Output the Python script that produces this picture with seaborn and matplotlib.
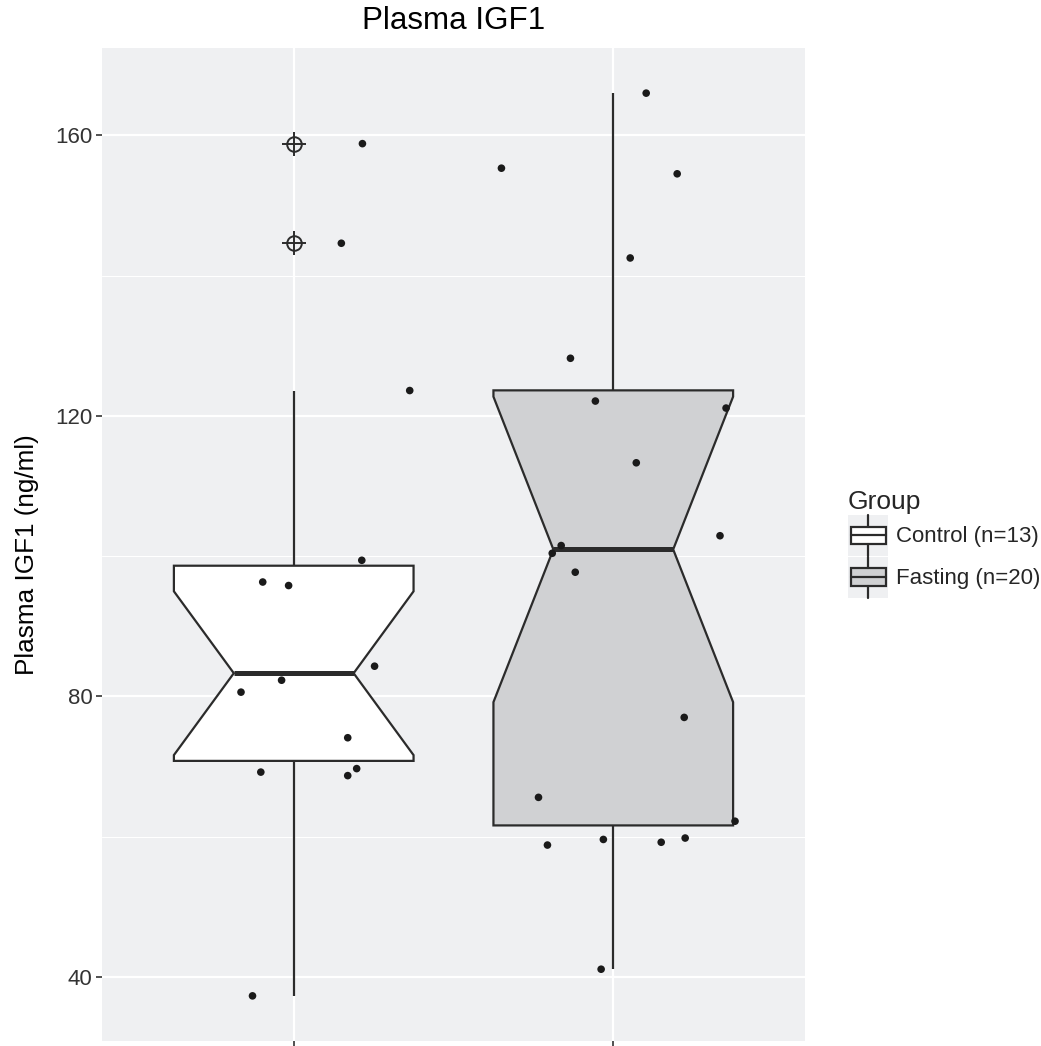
import numpy as np
import pandas as pd
import matplotlib
matplotlib.use("Agg")
import matplotlib.pyplot as plt
import matplotlib.patches as mpatches
from matplotlib.patches import Rectangle
from matplotlib.lines import Line2D
from matplotlib.legend_handler import HandlerBase
import seaborn as sns

# ---------------- data ----------------
groups = ["Control (n=13)", "Fasting (n=20)"]
control_values = [158.8, 144.6, 123.6, 99.4, 96.3, 95.8, 84.3, 82.3, 80.6,
                  74.1, 69.2, 68.7, 69.7, 37.3]
control_jitter = [0.215, 0.149, 0.363, 0.213, -0.097, -0.016, 0.253, -0.038,
                  -0.165, 0.169, -0.103, 0.169, 0.197, -0.129]
fasting_values = [166.0, 155.3, 154.5, 142.5, 128.2, 122.1, 121.1, 113.3,
                  101.5, 100.4, 102.9, 97.7, 77.0, 65.6, 62.2, 58.8, 59.6,
                  59.2, 59.8, 41.1]
fasting_jitter = [0.103, -0.350, 0.200, 0.053, -0.134, -0.056, 0.353, 0.072,
                  -0.163, -0.191, 0.334, -0.119, 0.222, -0.234, 0.381, -0.206,
                  -0.031, 0.150, 0.225, -0.038]
fill_colors = ["#FFFFFF", "#D0D1D3"]
major_yticks = [40, 80, 120, 160]
minor_yticks = [60, 100, 140]
title = "Plasma IGF1"
ylabel = "Plasma IGF1 (ng/ml)"
legend_title = "Group"

panel_bg = "#EFF0F2"
edge = "#2B2B2B"
point_color = "#1A1A1A"

df = pd.DataFrame({
    "group": [groups[0]] * len(control_values) + [groups[1]] * len(fasting_values),
    "value": control_values + fasting_values,
    "jitter": control_jitter + fasting_jitter,
})
df["xpos"] = df["group"].map({g: i for i, g in enumerate(groups)}) + df["jitter"]

# ---------------- figure ----------------
sns.set_theme(style="white")
plt.rcParams["font.family"] = ["Liberation Sans", "DejaVu Sans"]

W, H = 1041, 1046
fig = plt.figure(figsize=(W / 100, H / 100), dpi=100)
ax = fig.add_axes([102 / W, (H - 1041) / H, 703 / W, 993 / H])
ax.set_facecolor(panel_bg)

sns.boxplot(
    data=df, x="group", y="value", hue="group", order=groups, hue_order=groups,
    palette=dict(zip(groups, fill_colors)), saturation=1, width=0.75,
    dodge=False, notch=True, showcaps=False, legend=False,
    linecolor=edge, linewidth=1.6,
    medianprops=dict(linewidth=3.6, color=edge, solid_capstyle="butt"),
    flierprops=dict(marker="o", markersize=10.5, markerfacecolor="none",
                    markeredgecolor=edge, markeredgewidth=1.4),
    ax=ax, zorder=2,
)

# crosshair on outliers (circle-plus look)
for i, g in enumerate(groups):
    v = df.loc[df["group"] == g, "value"].to_numpy()
    q1, q3 = np.percentile(v, [25, 75])
    iqr = q3 - q1
    out = v[(v > q3 + 1.5 * iqr) | (v < q1 - 1.5 * iqr)]
    if len(out):
        ax.scatter(np.full(len(out), i), out, marker="+", s=290,
                   color=edge, linewidths=1.4, zorder=3)

sns.scatterplot(data=df, x="xpos", y="value", color=point_color, s=30,
                edgecolor="none", legend=False, ax=ax, zorder=4)

# axes styling
vals = df["value"].to_numpy()
rng = vals.max() - vals.min()
ax.set_ylim(vals.min() - 0.05 * rng, vals.max() + 0.05 * rng)
ax.set_xlim(-0.6, len(groups) - 1 + 0.6)
ax.set_yticks(major_yticks)
ax.set_yticks(minor_yticks, minor=True)
ax.set_xticks(range(len(groups)))
ax.set_xticklabels([""] * len(groups))
ax.set_xlabel("")
ax.set_ylabel(ylabel, fontsize=18.8, color="black")
ax.yaxis.set_label_coords(-0.089, 0.49)
ax.grid(True, which="major", color="white", linewidth=1.6, zorder=0)
ax.grid(True, which="minor", axis="y", color="white", linewidth=0.8, zorder=0)
ax.set_axisbelow(True)
for s in ax.spines.values():
    s.set_visible(False)
ax.tick_params(axis="both", which="major", length=4, width=1.2, color="#333333",
               labelsize=16, labelcolor="#333333", pad=3, left=True, bottom=True)
ax.tick_params(axis="y", which="minor", length=0)

fig.text(453.5 / W, 1 - 21 / H, title, ha="center", va="center", fontsize=22.6,
         color="black")

# ---------------- legend with boxplot keys ----------------
class BoxKeyHandler(HandlerBase):
    def create_artists(self, legend, orig_handle, xdescent, ydescent, width,
                       height, fontsize, trans):
        x0, y0 = -xdescent, -ydescent
        bg = Rectangle((x0, y0), width, height, facecolor=panel_bg,
                       edgecolor="none", transform=trans)
        bx = Rectangle((x0 + 0.08 * width, y0 + 0.29 * height), 0.86 * width,
                       0.43 * height, facecolor=orig_handle.get_facecolor(),
                       edgecolor=edge, linewidth=1.6, transform=trans)
        cx = x0 + 0.51 * width
        w1 = Line2D([cx, cx], [y0, y0 + 0.29 * height], color=edge, lw=1.6,
                    transform=trans)
        w2 = Line2D([cx, cx], [y0 + 0.72 * height, y0 + height], color=edge,
                    lw=1.6, transform=trans)
        md = Line2D([x0 + 0.08 * width, x0 + 0.94 * width],
                    [y0 + 0.505 * height] * 2, color=edge, lw=1.6,
                    transform=trans)
        return [bg, bx, w1, w2, md]

handles = [mpatches.Patch(facecolor=c) for c in fill_colors]
leg = fig.legend(
    handles, groups, title=legend_title, loc="upper left",
    bbox_to_anchor=(848 / W, 1 - 490 / H), frameon=False,
    fontsize=16, title_fontsize=19, handlelength=1.8, handleheight=2.45,
    handletextpad=0.35, labelspacing=0.05, borderpad=0, borderaxespad=0,
    alignment="left", handler_map={mpatches.Patch: BoxKeyHandler()},
)

fig.savefig("out.png", dpi=100)
